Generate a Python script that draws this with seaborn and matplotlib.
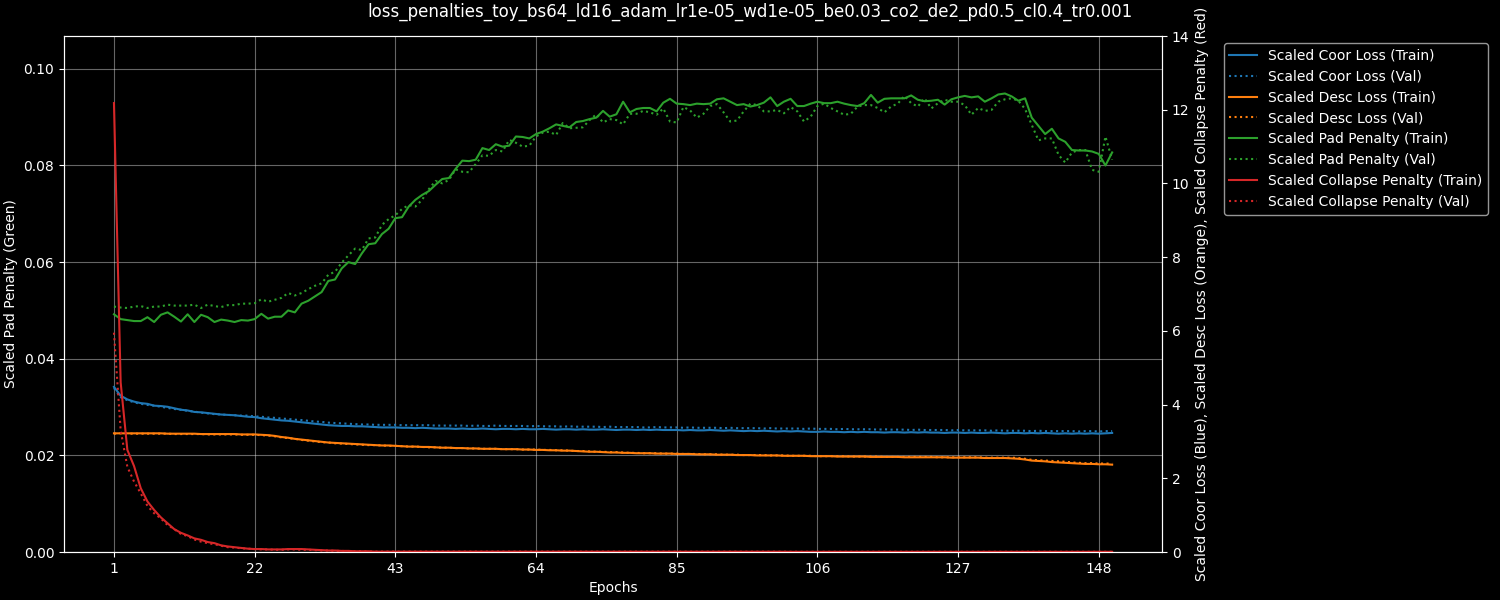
import matplotlib
matplotlib.use("Agg")
import matplotlib.pyplot as plt
import seaborn as sns
import numpy as np

title = "loss_penalties_toy_bs64_ld16_adam_lr1e-05_wd1e-05_be0.03_co2_de2_pd0.5_cl0.4_tr0.001"
epochs = list(range(1, 151))

# scaled coor loss (right axis)
coor_train = [
    4.48, 4.24, 4.14, 4.08, 4.04, 4.02, 3.97, 3.96, 3.94, 3.90,
    3.86, 3.84, 3.80, 3.79, 3.77, 3.75, 3.73, 3.72, 3.71, 3.69,
    3.67, 3.66, 3.63, 3.61, 3.59, 3.57, 3.56, 3.54, 3.52, 3.50,
    3.48, 3.46, 3.44, 3.43, 3.42, 3.42, 3.41, 3.41, 3.40, 3.39,
    3.38, 3.38, 3.38, 3.37, 3.37, 3.36, 3.37, 3.36, 3.35, 3.35,
    3.35, 3.34, 3.35, 3.34, 3.34, 3.35, 3.34, 3.33, 3.34, 3.34,
    3.33, 3.34, 3.33, 3.33, 3.34, 3.33, 3.32, 3.33, 3.33, 3.32,
    3.33, 3.32, 3.32, 3.33, 3.32, 3.31, 3.32, 3.32, 3.31, 3.32,
    3.31, 3.32, 3.31, 3.31, 3.31, 3.30, 3.31, 3.30, 3.30, 3.31,
    3.30, 3.29, 3.30, 3.29, 3.28, 3.29, 3.28, 3.29, 3.28, 3.27,
    3.28, 3.27, 3.28, 3.27, 3.26, 3.26, 3.27, 3.26, 3.26, 3.25,
    3.26, 3.25, 3.26, 3.25, 3.25, 3.24, 3.25, 3.25, 3.24, 3.25,
    3.24, 3.25, 3.24, 3.24, 3.23, 3.24, 3.24, 3.23, 3.24, 3.23,
    3.23, 3.24, 3.23, 3.22, 3.23, 3.23, 3.22, 3.23, 3.22, 3.23,
    3.22, 3.21, 3.22, 3.21, 3.22, 3.21, 3.22, 3.21, 3.22, 3.23,
]
coor_val = [
    4.45, 4.20, 4.12, 4.06, 4.02, 3.99, 3.97, 3.94, 3.91, 3.88,
    3.86, 3.83, 3.81, 3.78, 3.76, 3.74, 3.73, 3.72, 3.71, 3.70,
    3.70, 3.68, 3.67, 3.65, 3.64, 3.62, 3.61, 3.59, 3.58, 3.56,
    3.54, 3.53, 3.51, 3.50, 3.49, 3.48, 3.47, 3.46, 3.46, 3.45,
    3.45, 3.45, 3.45, 3.44, 3.44, 3.44, 3.44, 3.44, 3.43, 3.43,
    3.43, 3.43, 3.43, 3.42, 3.43, 3.42, 3.42, 3.43, 3.42, 3.42,
    3.42, 3.42, 3.41, 3.42, 3.41, 3.41, 3.41, 3.40, 3.41, 3.40,
    3.40, 3.40, 3.40, 3.39, 3.40, 3.39, 3.39, 3.39, 3.39, 3.38,
    3.38, 3.39, 3.38, 3.38, 3.38, 3.37, 3.38, 3.37, 3.37, 3.37,
    3.37, 3.36, 3.37, 3.36, 3.36, 3.36, 3.36, 3.35, 3.36, 3.35,
    3.35, 3.35, 3.35, 3.34, 3.35, 3.34, 3.34, 3.34, 3.33, 3.34,
    3.33, 3.33, 3.33, 3.33, 3.32, 3.33, 3.32, 3.32, 3.32, 3.31,
    3.32, 3.31, 3.31, 3.31, 3.31, 3.30, 3.31, 3.30, 3.30, 3.30,
    3.30, 3.29, 3.30, 3.29, 3.29, 3.29, 3.29, 3.28, 3.29, 3.28,
    3.28, 3.28, 3.28, 3.28, 3.27, 3.28, 3.28, 3.27, 3.28, 3.28,
]

# scaled desc loss (right axis)
desc_train = [
    3.22, 3.22, 3.22, 3.22, 3.22, 3.22, 3.22, 3.22, 3.21, 3.21,
    3.21, 3.21, 3.21, 3.20, 3.20, 3.20, 3.20, 3.20, 3.20, 3.19,
    3.19, 3.19, 3.18, 3.17, 3.15, 3.12, 3.10, 3.07, 3.05, 3.03,
    3.01, 2.99, 2.97, 2.96, 2.95, 2.94, 2.93, 2.92, 2.91, 2.90,
    2.89, 2.89, 2.88, 2.87, 2.86, 2.86, 2.85, 2.85, 2.84, 2.83,
    2.83, 2.82, 2.82, 2.81, 2.81, 2.80, 2.80, 2.80, 2.79, 2.79,
    2.79, 2.78, 2.78, 2.77, 2.77, 2.76, 2.76, 2.75, 2.75, 2.74,
    2.73, 2.72, 2.72, 2.71, 2.70, 2.70, 2.69, 2.69, 2.68, 2.68,
    2.68, 2.67, 2.67, 2.67, 2.66, 2.66, 2.66, 2.65, 2.65, 2.65,
    2.64, 2.64, 2.64, 2.63, 2.63, 2.63, 2.62, 2.62, 2.62, 2.62,
    2.61, 2.61, 2.61, 2.61, 2.60, 2.60, 2.60, 2.60, 2.59, 2.59,
    2.59, 2.59, 2.59, 2.58, 2.58, 2.58, 2.58, 2.58, 2.57, 2.57,
    2.57, 2.57, 2.57, 2.57, 2.57, 2.56, 2.56, 2.56, 2.56, 2.56,
    2.55, 2.55, 2.55, 2.55, 2.54, 2.53, 2.51, 2.48, 2.47, 2.46,
    2.44, 2.43, 2.42, 2.41, 2.40, 2.39, 2.39, 2.38, 2.38, 2.37,
]
desc_val = [
    3.21, 3.22, 3.21, 3.21, 3.21, 3.21, 3.21, 3.21, 3.21, 3.20,
    3.20, 3.20, 3.20, 3.20, 3.19, 3.19, 3.19, 3.19, 3.19, 3.18,
    3.18, 3.18, 3.17, 3.16, 3.14, 3.11, 3.09, 3.07, 3.04, 3.02,
    3.00, 2.98, 2.97, 2.95, 2.94, 2.93, 2.92, 2.91, 2.90, 2.90,
    2.89, 2.88, 2.88, 2.87, 2.86, 2.86, 2.85, 2.84, 2.84, 2.83,
    2.83, 2.82, 2.82, 2.81, 2.81, 2.80, 2.80, 2.80, 2.79, 2.79,
    2.79, 2.78, 2.78, 2.78, 2.77, 2.77, 2.76, 2.76, 2.75, 2.74,
    2.74, 2.73, 2.72, 2.72, 2.71, 2.71, 2.70, 2.69, 2.69, 2.68,
    2.68, 2.68, 2.67, 2.67, 2.67, 2.66, 2.66, 2.66, 2.65, 2.65,
    2.65, 2.64, 2.64, 2.64, 2.63, 2.63, 2.63, 2.63, 2.62, 2.62,
    2.62, 2.61, 2.61, 2.61, 2.61, 2.60, 2.60, 2.60, 2.60, 2.60,
    2.59, 2.59, 2.59, 2.59, 2.59, 2.58, 2.58, 2.58, 2.58, 2.58,
    2.58, 2.58, 2.58, 2.57, 2.57, 2.57, 2.57, 2.57, 2.57, 2.57,
    2.56, 2.56, 2.56, 2.56, 2.56, 2.55, 2.53, 2.50, 2.49, 2.48,
    2.47, 2.46, 2.45, 2.43, 2.42, 2.41, 2.41, 2.40, 2.40, 2.40,
]

# scaled pad penalty (left axis)
pad_train = [
    0.0492, 0.0482, 0.0480, 0.0478, 0.0478, 0.0486, 0.0476, 0.0491, 0.0496, 0.0487,
    0.0477, 0.0492, 0.0476, 0.0491, 0.0486, 0.0476, 0.0481, 0.0479, 0.0476, 0.0480,
    0.0479, 0.0482, 0.0493, 0.0483, 0.0487, 0.0487, 0.0500, 0.0496, 0.0514, 0.0520,
    0.0529, 0.0538, 0.0561, 0.0564, 0.0587, 0.0600, 0.0596, 0.0618, 0.0637, 0.0639,
    0.0658, 0.0669, 0.0691, 0.0693, 0.0715, 0.0729, 0.0739, 0.0747, 0.0760, 0.0772,
    0.0774, 0.0793, 0.0810, 0.0809, 0.0812, 0.0836, 0.0832, 0.0844, 0.0839, 0.0841,
    0.0860, 0.0859, 0.0856, 0.0865, 0.0870, 0.0877, 0.0885, 0.0882, 0.0879, 0.0890,
    0.0892, 0.0896, 0.0899, 0.0913, 0.0901, 0.0906, 0.0932, 0.0910, 0.0917, 0.0919,
    0.0919, 0.0912, 0.0930, 0.0938, 0.0928, 0.0927, 0.0925, 0.0928, 0.0927, 0.0928,
    0.0937, 0.0939, 0.0932, 0.0925, 0.0927, 0.0922, 0.0925, 0.0930, 0.0941, 0.0923,
    0.0932, 0.0938, 0.0923, 0.0923, 0.0928, 0.0932, 0.0929, 0.0929, 0.0932, 0.0928,
    0.0925, 0.0923, 0.0929, 0.0946, 0.0930, 0.0938, 0.0939, 0.0939, 0.0939, 0.0945,
    0.0936, 0.0933, 0.0934, 0.0936, 0.0926, 0.0937, 0.0941, 0.0944, 0.0941, 0.0943,
    0.0932, 0.0939, 0.0947, 0.0949, 0.0943, 0.0934, 0.0939, 0.0899, 0.0882, 0.0865,
    0.0876, 0.0856, 0.0849, 0.0832, 0.0831, 0.0831, 0.0829, 0.0824, 0.0800, 0.0827,
]
pad_val = [
    0.0508, 0.0506, 0.0505, 0.0508, 0.0509, 0.0505, 0.0508, 0.0508, 0.0512, 0.0510,
    0.0510, 0.0510, 0.0512, 0.0505, 0.0512, 0.0509, 0.0507, 0.0511, 0.0511, 0.0514,
    0.0514, 0.0515, 0.0523, 0.0518, 0.0522, 0.0526, 0.0536, 0.0531, 0.0536, 0.0544,
    0.0551, 0.0556, 0.0574, 0.0580, 0.0599, 0.0614, 0.0628, 0.0625, 0.0649, 0.0651,
    0.0677, 0.0689, 0.0697, 0.0710, 0.0718, 0.0715, 0.0729, 0.0751, 0.0768, 0.0763,
    0.0770, 0.0792, 0.0787, 0.0786, 0.0803, 0.0821, 0.0820, 0.0832, 0.0829, 0.0853,
    0.0847, 0.0839, 0.0841, 0.0860, 0.0868, 0.0870, 0.0863, 0.0888, 0.0877, 0.0878,
    0.0879, 0.0894, 0.0906, 0.0889, 0.0896, 0.0894, 0.0885, 0.0907, 0.0907, 0.0913,
    0.0910, 0.0905, 0.0918, 0.0891, 0.0889, 0.0921, 0.0914, 0.0899, 0.0907, 0.0923,
    0.0927, 0.0910, 0.0891, 0.0893, 0.0912, 0.0928, 0.0925, 0.0912, 0.0912, 0.0915,
    0.0908, 0.0921, 0.0912, 0.0891, 0.0901, 0.0923, 0.0928, 0.0919, 0.0912, 0.0905,
    0.0907, 0.0922, 0.0925, 0.0925, 0.0919, 0.0910, 0.0922, 0.0928, 0.0944, 0.0929,
    0.0922, 0.0939, 0.0918, 0.0929, 0.0936, 0.0932, 0.0932, 0.0925, 0.0905, 0.0919,
    0.0913, 0.0915, 0.0932, 0.0937, 0.0939, 0.0934, 0.0917, 0.0884, 0.0852, 0.0856,
    0.0856, 0.0822, 0.0806, 0.0827, 0.0832, 0.0832, 0.0791, 0.0787, 0.0860, 0.0812,
]

# scaled collapse penalty (right axis)
collapse_train = [
    12.18, 4.60, 2.77, 2.33, 1.73, 1.37, 1.14, 0.94, 0.78, 0.62,
    0.52, 0.45, 0.37, 0.33, 0.27, 0.24, 0.18, 0.15, 0.13, 0.11,
    0.09, 0.08, 0.08, 0.07, 0.07, 0.07, 0.08, 0.08, 0.08, 0.07,
    0.06, 0.05, 0.04, 0.04, 0.03, 0.03, 0.02, 0.02, 0.02, 0.01,
    0.01, 0.01, 0.01, 0.01, 0.01, 0.01, 0.01, 0.01, 0.01, 0.01,
    0.01, 0.01, 0.01, 0.01, 0.01, 0.01, 0.01, 0.01, 0.01, 0.01,
    0.007, 0.007, 0.007, 0.007, 0.007, 0.007, 0.007, 0.007, 0.007, 0.007,
    0.007, 0.007, 0.007, 0.007, 0.007, 0.007, 0.007, 0.007, 0.007, 0.007,
    0.007, 0.007, 0.007, 0.007, 0.007, 0.007, 0.007, 0.007, 0.007, 0.007,
    0.007, 0.007, 0.007, 0.007, 0.007, 0.007, 0.007, 0.007, 0.007, 0.007,
    0.005, 0.005, 0.005, 0.005, 0.005, 0.005, 0.005, 0.005, 0.005, 0.005,
    0.005, 0.005, 0.005, 0.005, 0.005, 0.005, 0.005, 0.005, 0.005, 0.005,
    0.005, 0.005, 0.005, 0.005, 0.005, 0.005, 0.005, 0.005, 0.005, 0.005,
    0.005, 0.005, 0.005, 0.005, 0.005, 0.005, 0.005, 0.005, 0.005, 0.005,
    0.005, 0.005, 0.005, 0.005, 0.005, 0.005, 0.005, 0.005, 0.005, 0.005,
]
collapse_val = [
    5.95, 3.30, 2.31, 1.91, 1.59, 1.25, 1.05, 0.91, 0.73, 0.62,
    0.49, 0.43, 0.34, 0.28, 0.24, 0.21, 0.17, 0.13, 0.12, 0.10,
    0.09, 0.08, 0.07, 0.07, 0.06, 0.06, 0.07, 0.07, 0.06, 0.06,
    0.05, 0.04, 0.04, 0.03, 0.03, 0.02, 0.02, 0.02, 0.01, 0.01,
    0.01, 0.01, 0.01, 0.01, 0.01, 0.01, 0.01, 0.01, 0.01, 0.01,
    0.01, 0.01, 0.01, 0.01, 0.01, 0.01, 0.01, 0.01, 0.01, 0.01,
    0.007, 0.007, 0.007, 0.007, 0.007, 0.007, 0.007, 0.007, 0.007, 0.007,
    0.007, 0.007, 0.007, 0.007, 0.007, 0.007, 0.007, 0.007, 0.007, 0.007,
    0.007, 0.007, 0.007, 0.007, 0.007, 0.007, 0.007, 0.007, 0.007, 0.007,
    0.007, 0.007, 0.007, 0.007, 0.007, 0.007, 0.007, 0.007, 0.007, 0.007,
    0.005, 0.005, 0.005, 0.005, 0.005, 0.005, 0.005, 0.005, 0.005, 0.005,
    0.005, 0.005, 0.005, 0.005, 0.005, 0.005, 0.005, 0.005, 0.005, 0.005,
    0.005, 0.005, 0.005, 0.005, 0.005, 0.005, 0.005, 0.005, 0.005, 0.005,
    0.005, 0.005, 0.005, 0.005, 0.005, 0.005, 0.005, 0.005, 0.005, 0.005,
    0.005, 0.005, 0.005, 0.005, 0.005, 0.005, 0.005, 0.005, 0.005, 0.005,
]

plt.style.use("dark_background")
fig, ax = plt.subplots(figsize=(15, 6), dpi=100)
fig.subplots_adjust(left=0.0427, right=0.7747, top=0.94, bottom=0.08)
ax2 = ax.twinx()

blue, orange, green, red = "#1f77b4", "#ff7f0e", "#2ca02c", "#d62728"

sns.lineplot(x=epochs, y=pad_train, ax=ax, color=green, linewidth=1.5, label="Scaled Pad Penalty (Train)")
sns.lineplot(x=epochs, y=pad_val, ax=ax, color=green, linewidth=1.5, linestyle=":", label="Scaled Pad Penalty (Val)")

sns.lineplot(x=epochs, y=coor_train, ax=ax2, color=blue, linewidth=1.5, label="Scaled Coor Loss (Train)")
sns.lineplot(x=epochs, y=coor_val, ax=ax2, color=blue, linewidth=1.5, linestyle=":", label="Scaled Coor Loss (Val)")
sns.lineplot(x=epochs, y=desc_train, ax=ax2, color=orange, linewidth=1.5, label="Scaled Desc Loss (Train)")
sns.lineplot(x=epochs, y=desc_val, ax=ax2, color=orange, linewidth=1.5, linestyle=":", label="Scaled Desc Loss (Val)")
sns.lineplot(x=epochs, y=collapse_train, ax=ax2, color=red, linewidth=1.5, label="Scaled Collapse Penalty (Train)")
sns.lineplot(x=epochs, y=collapse_val, ax=ax2, color=red, linewidth=1.5, linestyle=":", label="Scaled Collapse Penalty (Val)")

ax.set_ylim(0, 0.1068)
ax2.set_ylim(0, 14)
ax.set_xticks(list(range(1, 151, 21)))
ax.set_xlabel("Epochs")
ax.set_ylabel("Scaled Pad Penalty (Green)")
ax2.set_ylabel("Scaled Coor Loss (Blue), Scaled Desc Loss (Orange), Scaled Collapse Penalty (Red)")
ax.grid(True, color="white", alpha=0.4, linewidth=0.8)
ax2.grid(False)

h1, l1 = ax.get_legend_handles_labels()
h2, l2 = ax2.get_legend_handles_labels()
ax.get_legend().remove()
ax2.get_legend().remove()
handles = h2[:4] + h1 + h2[4:]
labels = l2[:4] + l1 + l2[4:]
ax2.legend(handles, labels, loc="upper left", bbox_to_anchor=(1.05, 1), facecolor="black", edgecolor="#bbbbbb")

fig.suptitle(title, fontsize=12, x=0.5, y=0.995)
fig.savefig("out.png", dpi=100)
